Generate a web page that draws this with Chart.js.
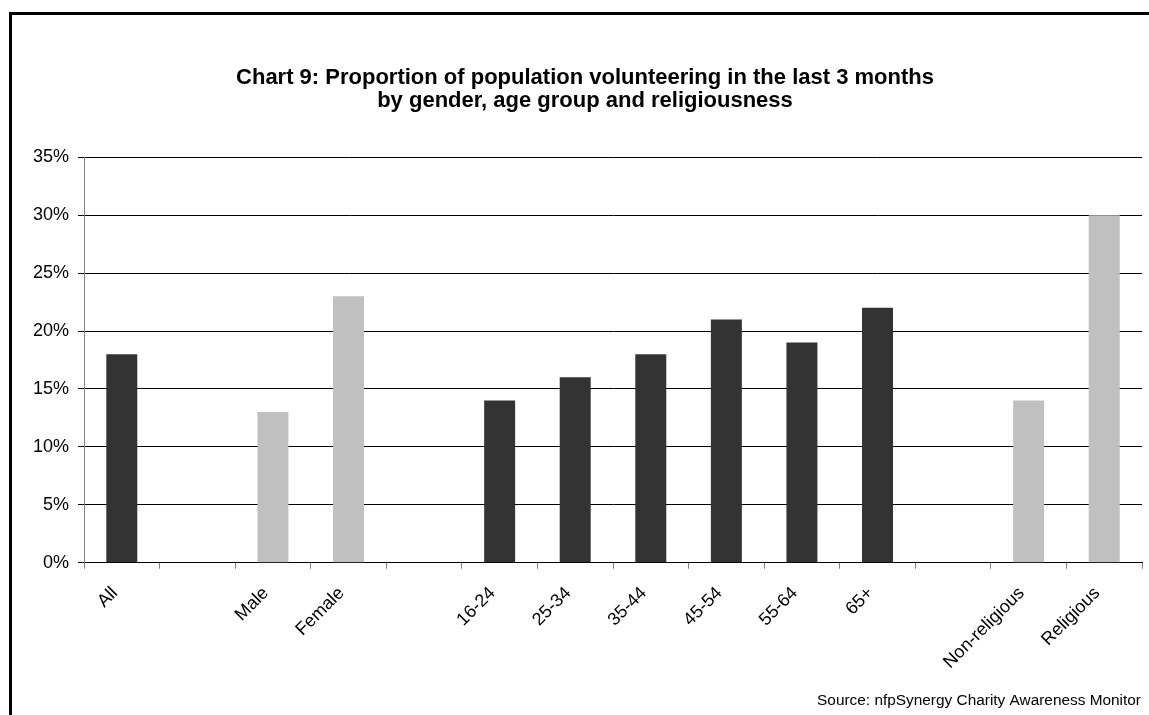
<!DOCTYPE html>
<html>
<head>
<meta charset="utf-8">
<script src="https://cdn.jsdelivr.net/npm/chart.js@4.4.1/dist/chart.umd.min.js"></script>
<style>
    html, body { margin: 0; padding: 0; background: #fff; overflow: hidden; }
    #frame { position: absolute; left: 9px; top: 12px; width: 1160px; height: 720px; border: 3px solid #000; box-sizing: border-box; }
    #wrap { position: absolute; left: 12px; top: 15px; width: 1146px; height: 700px; }
</style>
</head>
<body>
<div id="frame"></div>
<div id="wrap"><canvas id="chart9"></canvas></div>
<script>
// categories (blank ones are the gaps between groups)
const categories = ["All", "", "Male", "Female", "", "16-24", "25-34", "35-44", "45-54", "55-64", "65+", "", "Non-religious", "Religious"];
const volunteer_pct = [18, null, 13, 23, null, 14, 16, 18, 21, 19, 22, null, 14, 30];
const bar_colors = ["#333333", "#333333", "#c0c0c0", "#c0c0c0", "#333333", "#333333", "#333333", "#333333", "#333333", "#333333", "#333333", "#c0c0c0", "#c0c0c0", "#c0c0c0"];
const y_ticks = [0, 5, 10, 15, 20, 25, 30, 35];
const title_lines = ["Chart 9: Proportion of population volunteering in the last 3 months", "by gender, age group and religiousness"];
const source_text = "Source: nfpSynergy Charity Awareness Monitor";

const font_family = "'Liberation Sans', Arial, sans-serif";

// draws the source note under the axis, right aligned
const sourcePlugin = {
    id: 'sourceNote',
    afterDraw(chart) {
        const ctx = chart.ctx;
        ctx.save();
        ctx.font = "15.4px " + font_family;
        ctx.fillStyle = "#000";
        ctx.textAlign = "right";
        ctx.textBaseline = "middle";
        ctx.fillText(source_text, chart.chartArea.right - 1, chart.height - 14);
        ctx.restore();
    }
};

new Chart("chart9", {
    type: "bar",
    data: {
        labels: categories,
        datasets: [{
            data: volunteer_pct,
            backgroundColor: bar_colors,
            barPercentage: 0.41,
            categoryPercentage: 1.0
        }]
    },
    options: {
        responsive: true,
        maintainAspectRatio: false,
        animation: false,
        devicePixelRatio: 1,
        layout: { padding: { left: 16, right: 16, top: 0, bottom: 28 } },
        plugins: {
            legend: { display: false },
            tooltip: { enabled: false },
            title: {
                display: true,
                text: title_lines,
                color: "#000",
                font: { family: font_family, size: 22, weight: "bold", lineHeight: 1.05 },
                padding: { top: 51, bottom: 45 }
            }
        },
        scales: {
            x: {
                grid: { offset: true, drawOnChartArea: false, drawTicks: true, tickLength: 6, color: "#808080" },
                border: { color: "#000", width: 1 },
                ticks: {
                    color: "#000",
                    font: { family: font_family, size: 18 },
                    maxRotation: 45,
                    minRotation: 45,
                    autoSkip: false,
                    padding: 14,
                    labelOffset: -7
                }
            },
            y: {
                min: 0,
                max: 35,
                afterBuildTicks(scale) { scale.ticks = y_ticks.map(v => ({ value: v })); },
                afterFit(scale) { scale.width = 56; },   // plot left edge at 84px
                grid: { color: "#000", lineWidth: 1, tickLength: 6, tickColor: "#000" },
                border: { color: "#808080", width: 1 },
                ticks: {
                    color: "#000",
                    font: { family: font_family, size: 18 },
                    padding: 9,
                    callback: (v) => v + "%"
                }
            }
        }
    },
    plugins: [sourcePlugin]
});
</script>
</body>
</html>
